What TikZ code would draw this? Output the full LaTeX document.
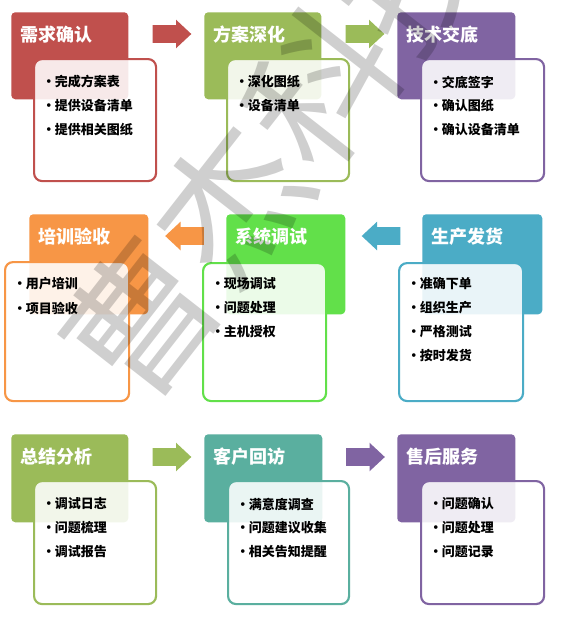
\documentclass[tikz,border=0pt]{standalone}
\usepackage{fontspec}
\setmainfont{Noto Sans CJK SC}
\usetikzlibrary{calc,shapes.arrows}
\definecolor{cRed}{HTML}{C0504D}
\definecolor{cOlive}{HTML}{9BBB59}
\definecolor{cPurple}{HTML}{8064A2}
\definecolor{cOrange}{HTML}{F79646}
\definecolor{cLime}{HTML}{62E04A}
\definecolor{cBlue}{HTML}{4BACC6}
\definecolor{cTeal}{HTML}{5AAF9F}
\tikzset{
  titlebox/.style={rounded corners=3pt, anchor=north west, inner sep=0pt},
  listbox/.style={line width=1.6pt, fill=white, fill opacity=0.88, rounded corners=6pt, anchor=north west, inner sep=0pt},
  titletext/.style={text=white, font=\bfseries\fontsize{13.5}{16}\selectfont, anchor=west, inner sep=0pt},
  itemtext/.style={font=\bfseries\fontsize{9.75}{12}\selectfont, anchor=west, inner sep=0pt},
  blockarrow/.style={single arrow, minimum height=29pt, inner xsep=0pt, inner ysep=6.4pt, single arrow head extend=4.1pt, single arrow tip angle=86},
  wmark/.style={text=black, text opacity=0.19, font=\fontsize{110}{110}\selectfont, rotate=52, inner sep=0pt}
}
\begin{document}
\begin{tikzpicture}[x=0.75pt, y=-0.75pt]
\fill[white] (0,0) rectangle (563,622);
\useasboundingbox (0,0) rectangle (563,622);
% stages: title box, title, list box
\foreach \i/\col/\tx/\ty/\tw/\th/\cx/\cy/\cw/\ch/\name in {
  1/cRed/11/12/117/87/33/58/122/122/需求确认,
  2/cOlive/204/12/117/87/226/58/122/122/方案深化,
  3/cPurple/397/12/118/87/420/58/123/122/技术交底,
  4/cOrange/29/214/119/100/4/261/124/139/培训验收,
  5/cLime/226/214/119/100/202/262/123/138/系统调试,
  6/cBlue/422/214/120/100/398/262/124/138/生产发货,
  7/cOlive/11/434/117/88/33/480/122/123/总结分析,
  8/cTeal/204/434/118/88/227/480/121/123/客户回访,
  9/cPurple/397/434/118/88/420/480/123/123/售后服务}{
  \node[titlebox, fill=\col, minimum width=\tw*0.75pt, minimum height=\th*0.75pt] (t\i) at (\tx,\ty) {};
  \node[titletext] (n\i) at ($(t\i.north west)+(9,23)$) {\name};
  \node[listbox, draw=\col, minimum width=\cw*0.75pt, minimum height=\ch*0.75pt] (c\i) at (\cx,\cy) {};
}
% list lines
\foreach \i/\k/\txt in {1/0/完成方案表, 1/1/提供设备清单, 1/2/提供相关图纸,
  2/0/深化图纸, 2/1/设备清单, 3/0/交底签字, 3/1/确认图纸, 3/2/确认设备清单,
  4/0/用户培训, 4/1/项目验收, 5/0/现场调试, 5/1/问题处理, 5/2/主机授权,
  6/0/准确下单, 6/1/组织生产, 6/2/严格测试, 6/3/按时发货,
  7/0/调试日志, 7/1/问题梳理, 7/2/调试报告,
  8/0/满意度调查, 8/1/问题建议收集, 8/2/相关告知提醒,
  9/0/问题确认, 9/1/问题处理, 9/2/问题记录}
  \node[itemtext] (i\i\k) at ($(c\i.west |- t\i.north)+(9,70+24*\k)$) {\makebox[9.5pt][l]{•}\txt};
% arrows between stages
\node[blockarrow, fill=cRed] (a1) at ($(t1.north east)!0.5!(t2.north west)+(1,22)$) {};
\node[blockarrow, fill=cOlive] (a2) at ($(t2.north east)!0.5!(t3.north west)+(1,22)$) {};
\node[blockarrow, fill=cOrange, shape border rotate=180] (a3) at ($(t4.north east)!0.5!(t5.north west)+(2,22)$) {};
\node[blockarrow, fill=cBlue, shape border rotate=180] (a4) at ($(t5.north east)!0.5!(t6.north west)+(2,22)$) {};
\node[blockarrow, fill=cOlive] (a5) at ($(t7.north east)!0.5!(t8.north west)+(1,23)$) {};
\node[blockarrow, fill=cPurple] (a6) at ($(t8.north east)!0.5!(t9.north west)+(1,23)$) {};
% watermark
\foreach \c [count=\j] in {曹,杰,科,技}
  \node[wmark] (w\j) at ($(50,435)+\j*(90.5,-115.8)$) {\c};
\end{tikzpicture}
\end{document}
